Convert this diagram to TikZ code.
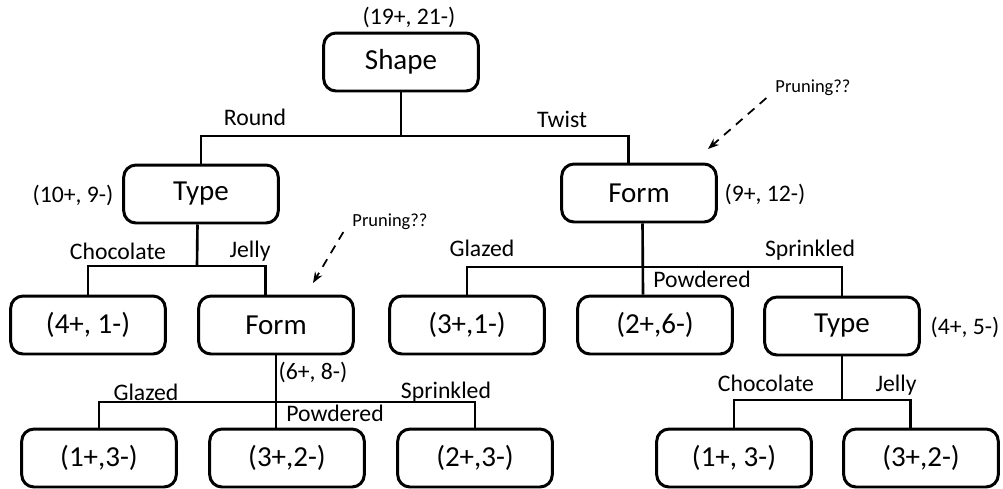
\documentclass[tikz,border=0pt]{standalone}
\usepackage{fontspec}
\setmainfont{Carlito}
\usepackage{tikz}
\usetikzlibrary{arrows.meta,positioning}

\begin{document}
\begin{tikzpicture}[
x=0.02cm, y=-0.02cm,
box/.style={draw, line width=1.7pt, rounded corners=7pt, minimum width=88pt, minimum height=33pt, font=\fontsize{16.5}{18}\selectfont},
edge/.style={line width=1.5pt},
lbl/.style={font=\fontsize{13.5}{15}\selectfont, inner sep=1pt},
prune/.style={font=\fontsize{10.5}{12}\selectfont, inner sep=1pt},
dasharrow/.style={-{Stealth[length=2.2mm]}, line width=1pt, dashed, dash pattern=on 5pt off 4pt}
]
\useasboundingbox (0,0) rectangle (1003,488);
% decision nodes
\node[box] (shape) at (401,62) {Shape};
\node[box] (typeA) at (201,194) {Type};
\node[box] (formA) at (639,193) {Form};
% second row
\node[box] (leafA) at (88,325) {(4+, 1-)};
\node[box] (formB) at (276,325) {Form};
\node[box] (leafB) at (467,325) {(3+,1-)};
\node[box] (leafC) at (655,325) {(2+,6-)};
\node[box] (typeB) at (842,326) {Type};
% third row
\node[box] (leafD) at (99,458) {(1+,3-)};
\node[box] (leafE) at (287,458) {(3+,2-)};
\node[box] (leafF) at (475,458) {(2+,3-)};
\node[box] (leafG) at (734,458) {(1+, 3-)};
\node[box] (leafH) at (921,458) {(3+,2-)};

% counts
\node[lbl] (cShape) at (409,17) {(19+, 21-)};
\node[lbl] (cTypeA) at (73,195) {(10+, 9-)};
\node[lbl] (cFormA) at (765,194) {(9+, 12-)};
\node[lbl] (cFormB) at (313,372) {(6+, 8-)};
\node[lbl] (cTypeB) at (965,327) {(4+, 5-)};

% branches
\coordinate (j1) at (401,136);
\draw[edge] (shape.south) -- (j1);
\draw[edge] (typeA.north) |- (j1) -| ([xshift=-6pt]formA.north);
\node[lbl] at (255,117) {Round};
\node[lbl] at (562,119) {Twist};

\coordinate (j2) at (197,266);
\draw[edge] ([xshift=-2pt]typeA.south) -- (j2);
\draw[edge] (leafA.north) |- (j2) -| ([xshift=-6pt]formB.north);
\node[lbl] at (118,251) {Chocolate};
\node[lbl] at (250,251) {Jelly};

\coordinate (j3) at (643,267);
\draw[edge] ([xshift=2pt]formA.south) -- (j3 |- leafC.north);
\draw[edge] (leafB.north) |- (j3) -| (typeB.north);
\node[lbl] at (482,248) {Glazed};
\node[lbl] at (810,250) {Sprinkled};
\node[lbl] at (702,279) {Powdered};

\coordinate (j4) at (276,402);
\draw[edge] (formB.south) -- (j4 |- leafE.north);
\draw[edge] (leafD.north) |- (j4) -| (leafF.north);
\node[lbl] at (146,392) {Glazed};
\node[lbl] at (446,392) {Sprinkled};
\node[lbl] at (335,413) {Powdered};

\coordinate (j5) at (842,400);
\draw[edge] (typeB.south) -- (j5);
\draw[edge] (leafG.north) |- (j5) -| ([xshift=-6pt]leafH.north);
\node[lbl] at (766,383) {Chocolate};
\node[lbl] at (896,385) {Jelly};

% pruning notes
\node[prune] (pruneA) at (813,88) {Pruning??};
\coordinate (tipA) at (708,149);
\draw[dasharrow] ([xshift=-4pt]pruneA.south west) -- (tipA);
\node[prune] (pruneB) at (390,222) {Pruning??};
\coordinate (tipB) at (313,283);
\draw[dasharrow] ([xshift=-4pt]pruneB.south west) -- (tipB);
\end{tikzpicture}
\end{document}
